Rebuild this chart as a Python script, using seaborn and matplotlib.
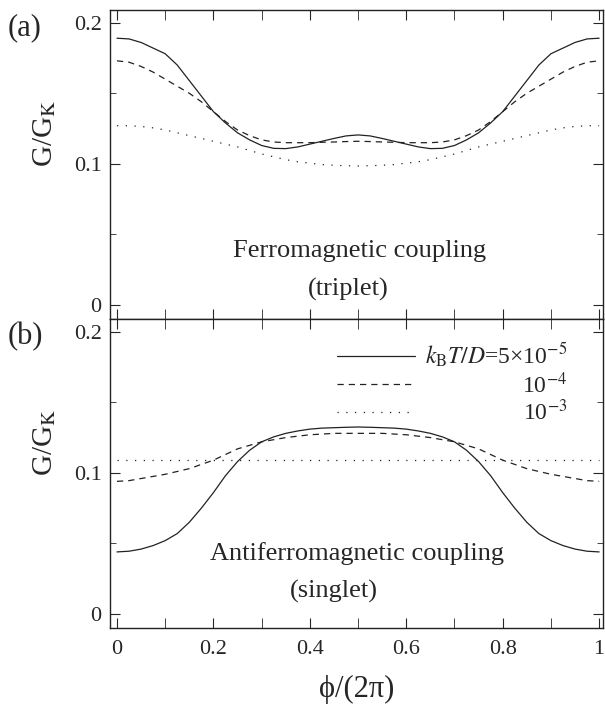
import numpy as np
import pandas as pd
import matplotlib
matplotlib.use("Agg")
import matplotlib.pyplot as plt
import seaborn as sns
from matplotlib.ticker import MultipleLocator, FuncFormatter

# phase phi/(2 pi)
phi = [0.0, 0.025, 0.05, 0.075, 0.1, 0.125, 0.15, 0.175, 0.2, 0.225, 0.25,
       0.275, 0.3, 0.325, 0.35, 0.375, 0.4, 0.425, 0.45, 0.475, 0.5,
       0.525, 0.55, 0.575, 0.6, 0.625, 0.65, 0.675, 0.7, 0.725, 0.75,
       0.775, 0.8, 0.825, 0.85, 0.875, 0.9, 0.925, 0.95, 0.975, 1.0]

# (a) ferromagnetic coupling (triplet)
fm_5e5 = [0.189, 0.1885, 0.186, 0.182, 0.178, 0.170, 0.159, 0.148, 0.137, 0.129, 0.122,
          0.117, 0.113, 0.111, 0.1108, 0.112, 0.114, 0.116, 0.118, 0.1198, 0.1205,
          0.1198, 0.118, 0.116, 0.114, 0.112, 0.1108, 0.111, 0.113, 0.117, 0.122,
          0.129, 0.137, 0.148, 0.159, 0.170, 0.178, 0.182, 0.186, 0.1885, 0.189]
fm_1e4 = [0.173, 0.172, 0.169, 0.165, 0.160, 0.155, 0.150, 0.144, 0.137, 0.130, 0.124,
          0.120, 0.117, 0.1155, 0.115, 0.115, 0.115, 0.1153, 0.1155, 0.1158, 0.116,
          0.1158, 0.1155, 0.1153, 0.115, 0.115, 0.115, 0.1155, 0.117, 0.120, 0.124,
          0.130, 0.137, 0.144, 0.150, 0.155, 0.160, 0.165, 0.169, 0.172, 0.173]
fm_1e3 = [0.127, 0.127, 0.1265, 0.1255, 0.124, 0.122, 0.120, 0.118, 0.116, 0.114, 0.112,
          0.1095, 0.107, 0.105, 0.103, 0.1015, 0.1005, 0.0995, 0.099, 0.0987, 0.0985,
          0.0987, 0.099, 0.0995, 0.1005, 0.1015, 0.103, 0.105, 0.107, 0.1095, 0.112,
          0.114, 0.116, 0.118, 0.120, 0.122, 0.124, 0.1255, 0.1265, 0.127, 0.127]

# (b) antiferromagnetic coupling (singlet)
afm_5e5 = [0.044, 0.0445, 0.046, 0.0485, 0.052, 0.057, 0.065, 0.075, 0.086, 0.098, 0.108,
           0.116, 0.122, 0.1255, 0.128, 0.1297, 0.131, 0.1317, 0.132, 0.1323, 0.1325,
           0.1323, 0.132, 0.1317, 0.131, 0.1297, 0.128, 0.1255, 0.122, 0.116, 0.108,
           0.098, 0.086, 0.075, 0.065, 0.057, 0.052, 0.0485, 0.046, 0.0445, 0.044]
afm_1e4 = [0.094, 0.0945, 0.096, 0.0975, 0.099, 0.101, 0.103, 0.106, 0.109, 0.113, 0.117,
           0.1195, 0.122, 0.1235, 0.125, 0.126, 0.127, 0.1275, 0.128, 0.128, 0.128,
           0.128, 0.128, 0.1275, 0.127, 0.126, 0.125, 0.1235, 0.122, 0.1195, 0.117,
           0.113, 0.109, 0.106, 0.103, 0.101, 0.099, 0.0975, 0.096, 0.0945, 0.094]
afm_1e3 = [0.109, 0.109, 0.109, 0.109, 0.109, 0.109, 0.109, 0.109, 0.109, 0.109, 0.109,
           0.109, 0.109, 0.109, 0.109, 0.109, 0.109, 0.109, 0.109, 0.109, 0.109,
           0.109, 0.109, 0.109, 0.109, 0.109, 0.109, 0.109, 0.109, 0.109, 0.109,
           0.109, 0.109, 0.109, 0.109, 0.109, 0.109, 0.109, 0.109, 0.109, 0.109]

legend_labels = [r"$k_{\rm B}T/D$=5×10$^{-5}$", r"10$^{-4}$", r"10$^{-3}$"]
styles = ["-", (0, (5, 4)), (0, (1, 6))]


def tick_fmt(v, pos):
    if abs(v) < 1e-9:
        return "0"
    if abs(v - 1) < 1e-9:
        return "1"
    return f"{v:.1f}"


sns.set_style("ticks")
plt.rcParams["font.family"] = ["Liberation Serif", "DejaVu Serif"]
plt.rcParams["mathtext.fontset"] = "stix"

fig = plt.figure(figsize=(6.05, 7.08), dpi=100)
ax_a = fig.add_axes([0.1818, 0.5494, 0.8149, 0.4365])
ax_b = fig.add_axes([0.1818, 0.1130, 0.8149, 0.4364])

for ax, series in [(ax_a, [fm_5e5, fm_1e4, fm_1e3]), (ax_b, [afm_5e5, afm_1e4, afm_1e3])]:
    for vals, ls in zip(series, styles):
        df = pd.DataFrame({"phi": phi, "G": vals})
        sns.lineplot(data=df, x="phi", y="G", ax=ax, color="#222222", lw=0.9,
                     linestyle=ls, legend=False)
    ax.set_xlim(-0.0145, 1.008)
    ax.set_ylim(-0.0099, 0.209)
    ax.xaxis.set_major_locator(MultipleLocator(0.2))
    ax.xaxis.set_minor_locator(MultipleLocator(0.1))
    ax.yaxis.set_major_locator(MultipleLocator(0.1))
    ax.yaxis.set_minor_locator(MultipleLocator(0.05))
    ax.xaxis.set_major_formatter(FuncFormatter(tick_fmt))
    ax.yaxis.set_major_formatter(FuncFormatter(tick_fmt))
    ax.tick_params(which="both", direction="in", top=True, right=True, labelsize=16)
    ax.tick_params(axis="x", which="both", length=7, pad=9)
    ax.tick_params(axis="y", which="major", length=7, pad=6)
    ax.tick_params(axis="y", which="minor", length=4)
    ax.set_ylabel(r"G/G$_{\rm K}$", fontsize=21)
    ax.yaxis.set_label_coords(-0.105, 0.6)
    for s in ax.spines.values():
        s.set_linewidth(1.0)
        s.set_color("#222222")

ax_a.tick_params(axis="x", labelbottom=False)
ax_a.set_xlabel("")
ax_b.set_xlabel("ϕ/(2π)", fontsize=22, labelpad=11)

ax_a.text(0.503, 0.038, "Ferromagnetic coupling", ha="center", va="center", fontsize=19)
ax_a.text(0.48, 0.011, "(triplet)", ha="center", va="center", fontsize=19)
ax_b.text(0.497, 0.043, "Antiferromagnetic coupling", ha="center", va="center", fontsize=19)
ax_b.text(0.45, 0.016, "(singlet)", ha="center", va="center", fontsize=19)

fig.text(0.012, 1 - 28 / 708, "(a)", ha="left", va="center", fontsize=22)
fig.text(0.012, 1 - 337 / 708, "(b)", ha="left", va="center", fontsize=22)

leg = ax_b.legend(handles=ax_b.get_lines()[:3], labels=legend_labels,
                  loc="upper left", bbox_to_anchor=(0.46, 0.93), frameon=False,
                  fontsize=17, handlelength=3.3, handletextpad=0.45,
                  labelspacing=0.1, borderpad=0, borderaxespad=0)

# right-align the legend labels like the original
fig.canvas.draw()
r = fig.canvas.get_renderer()
widths = [t.get_window_extent(r).width for t in leg.get_texts()]
wmax = max(widths)
for t, w in zip(leg.get_texts(), widths):
    t.set_x(wmax - w)

fig.savefig("out.png", dpi=100)
